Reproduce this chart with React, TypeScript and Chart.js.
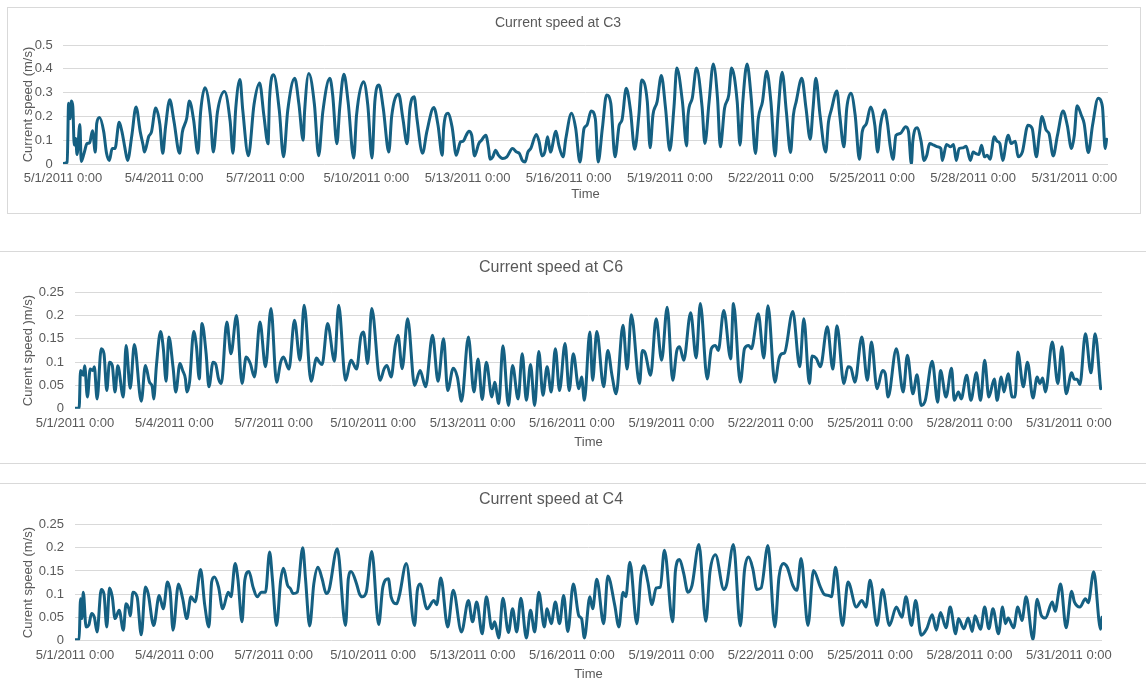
import React, { useEffect, useRef } from "react";
import { Chart, registerables } from "chart.js";

Chart.register(...registerables);

// ---------- data ----------
const xTickHours = [0, 72, 144, 216, 288, 360, 432, 504, 576, 648, 720];
const xTickLabels = [
  "5/1/2011 0:00", "5/4/2011 0:00", "5/7/2011 0:00", "5/10/2011 0:00", "5/13/2011 0:00",
  "5/16/2011 0:00", "5/19/2011 0:00", "5/22/2011 0:00", "5/25/2011 0:00", "5/28/2011 0:00",
  "5/31/2011 0:00",
];
const yTicksC3 = [0, 0.1, 0.2, 0.3, 0.4, 0.5];
const yTickLabelsC3 = ["0", "0.1", "0.2", "0.3", "0.4", "0.5"];
const yTicksSmall = [0, 0.05, 0.1, 0.15, 0.2, 0.25];
const yTickLabelsSmall = ["0", "0.05", "0.1", "0.15", "0.2", "0.25"];

// C3: hours since 5/1/2011 0:00 and current speed (m/s)
const c3Hours = [
  0, 3, 4, 5, 6, 7, 8, 9, 10, 12, 13, 15, 17, 19, 21, 23, 24, 26, 29, 31, 33, 35, 37, 40, 42, 44, 46, 49, 52, 55,
  57, 58, 61, 63, 66, 69, 71, 73, 76, 79, 83, 85, 88, 90, 93, 96, 98, 101, 105, 107, 110, 115, 119, 121, 123, 126,
  128, 132, 136, 140, 143, 146, 147, 150, 154, 157, 160, 165, 168, 171, 172, 175, 179, 182, 185, 190, 192, 195,
  197, 200, 203, 207, 209, 214, 217, 220, 222, 225, 228, 232, 234, 239, 242, 245, 247, 250, 252, 256, 259, 264,
  267, 270, 271, 274, 277, 280, 283, 285, 287, 289, 291, 293, 296, 298, 301, 303, 304, 306, 308, 310, 313, 316,
  320, 323, 325, 327, 329, 331, 333, 337, 339, 341, 343, 345, 347, 351, 353, 356, 358, 362, 365, 368, 371, 373,
  376, 379, 381, 384, 387, 390, 393, 396, 398, 401, 404, 407, 410, 412, 416, 418, 420, 423, 426, 429, 432, 435,
  437, 441, 444, 445, 448, 451, 455, 457, 460, 463, 466, 468, 471, 474, 476, 480, 482, 484, 487, 490, 493, 495,
  498, 501, 504, 507, 509, 512, 515, 518, 520, 522, 526, 529, 532, 534, 536, 539, 543, 545, 547, 551, 553, 556,
  558, 561, 564, 567, 569, 572, 575, 578, 580, 582, 585, 587, 589, 591, 593, 596, 600, 602, 604, 605, 608, 611,
  613, 615, 617, 620, 623, 625, 626, 629, 632, 634, 636, 638, 641, 643, 646, 648, 650, 652, 654, 656, 658, 660,
  663, 665, 667, 669, 672, 673, 675, 678, 680, 683, 687, 690, 693, 695, 697, 700, 702, 705, 708, 712, 715, 718,
  720, 722, 725, 727, 730, 733, 737, 740, 742, 743,
];
const c3Speed = [
  0.002, 0.008, 0.255, 0.19, 0.265, 0.24, 0.08, 0.107, 0.04, 0.166, 0.01, 0.045, 0.085, 0.09, 0.14, 0.05, 0.17,
  0.195, 0.135, 0.045, 0.015, 0.065, 0.065, 0.175, 0.135, 0.07, 0.015, 0.12, 0.24, 0.135, 0.08, 0.05, 0.115, 0.135,
  0.235, 0.165, 0.045, 0.155, 0.27, 0.18, 0.045, 0.135, 0.19, 0.265, 0.185, 0.045, 0.22, 0.32, 0.2, 0.05, 0.22,
  0.305, 0.18, 0.045, 0.235, 0.355, 0.225, 0.035, 0.25, 0.34, 0.205, 0.085, 0.27, 0.375, 0.225, 0.03, 0.225, 0.36,
  0.25, 0.1, 0.22, 0.38, 0.25, 0.035, 0.22, 0.36, 0.29, 0.085, 0.235, 0.377, 0.26, 0.025, 0.205, 0.346, 0.248,
  0.025, 0.26, 0.332, 0.234, 0.05, 0.2, 0.293, 0.19, 0.085, 0.234, 0.283, 0.19, 0.045, 0.135, 0.237, 0.163, 0.037,
  0.15, 0.213, 0.156, 0.037, 0.093, 0.096, 0.12, 0.138, 0.12, 0.034, 0.086, 0.1, 0.121, 0.065, 0.02, 0.03, 0.058,
  0.037, 0.023, 0.03, 0.065, 0.05, 0.044, 0.015, 0.008, 0.05, 0.065, 0.124, 0.093, 0.034, 0.05, 0.114, 0.05, 0.138,
  0.079, 0.03, 0.107, 0.213, 0.15, 0.008, 0.15, 0.163, 0.223, 0.19, 0.008, 0.15, 0.29, 0.255, 0.03, 0.163, 0.185,
  0.318, 0.227, 0.062, 0.205, 0.353, 0.262, 0.068, 0.205, 0.262, 0.372, 0.234, 0.058, 0.24, 0.403, 0.262, 0.076,
  0.205, 0.276, 0.403, 0.24, 0.086, 0.262, 0.42, 0.276, 0.072, 0.234, 0.29, 0.403, 0.262, 0.079, 0.262, 0.42,
  0.276, 0.044, 0.19, 0.262, 0.39, 0.262, 0.034, 0.205, 0.386, 0.22, 0.048, 0.205, 0.262, 0.36, 0.234, 0.104,
  0.234, 0.36, 0.205, 0.05, 0.177, 0.227, 0.307, 0.205, 0.072, 0.234, 0.297, 0.205, 0.02, 0.135, 0.17, 0.24, 0.163,
  0.05, 0.163, 0.227, 0.17, 0.072, 0.02, 0.12, 0.128, 0.156, 0.135, 0.0, 0.093, 0.152, 0.093, 0.015, 0.037, 0.086,
  0.079, 0.072, 0.065, 0.015, 0.082, 0.072, 0.082, 0.015, 0.065, 0.068, 0.075, 0.015, 0.05, 0.044, 0.04, 0.079,
  0.03, 0.037, 0.02, 0.114, 0.096, 0.086, 0.015, 0.107, 0.121, 0.086, 0.096, 0.03, 0.05, 0.163, 0.15, 0.03, 0.12,
  0.2, 0.142, 0.128, 0.034, 0.12, 0.223, 0.163, 0.065, 0.12, 0.245, 0.205, 0.17, 0.048, 0.163, 0.276, 0.242, 0.065,
  0.104,
];

// C6
const c6Hours = [
  0, 3, 4, 6, 7, 9, 11, 13, 14, 16, 19, 21, 23, 25, 27, 29, 31, 35, 37, 40, 43, 48, 51, 54, 56, 57, 59, 62, 64, 66,
  68, 71, 73, 76, 78, 80, 81, 83, 86, 88, 90, 92, 95, 97, 100, 102, 104, 106, 110, 113, 117, 121, 124, 127, 130,
  134, 138, 142, 146, 149, 151, 155, 159, 163, 166, 171, 175, 177, 179, 183, 188, 191, 196, 199, 200, 204, 207,
  209, 212, 215, 221, 224, 226, 229, 232, 234, 237, 241, 246, 250, 254, 259, 263, 267, 270, 274, 277, 280, 285,
  289, 292, 295, 298, 302, 304, 307, 310, 314, 317, 321, 324, 327, 330, 333, 336, 339, 342, 345, 348, 351, 355,
  358, 361, 365, 367, 369, 373, 375, 378, 383, 386, 389, 392, 397, 400, 403, 409, 411, 413, 417, 421, 425, 429,
  433, 436, 438, 441, 446, 450, 453, 458, 461, 464, 466, 470, 475, 477, 482, 485, 488, 490, 495, 499, 502, 507,
  510, 512, 514, 520, 525, 528, 532, 534, 537, 540, 545, 549, 552, 557, 560, 562, 565, 570, 574, 577, 581, 585,
  587, 589, 595, 600, 603, 607, 610, 613, 616, 621, 625, 627, 631, 635, 637, 640, 642, 646, 649, 653, 656, 659,
  662, 666, 668, 671, 673, 676, 679, 681, 683, 687, 690, 694, 697, 699, 701, 703, 708, 712, 715, 718, 722, 724,
  726, 728, 732, 736, 739, 743,
];
const c6Speed = [
  0.001, 0.001, 0.082, 0.072, 0.092, 0.025, 0.085, 0.082, 0.09, 0.021, 0.129, 0.118, 0.039, 0.1, 0.093, 0.036,
  0.092, 0.025, 0.136, 0.044, 0.138, 0.016, 0.093, 0.057, 0.047, 0.021, 0.093, 0.166, 0.129, 0.059, 0.154, 0.09,
  0.036, 0.097, 0.082, 0.064, 0.036, 0.057, 0.166, 0.133, 0.064, 0.183, 0.118, 0.047, 0.1, 0.095, 0.064, 0.054,
  0.186, 0.118, 0.2, 0.054, 0.111, 0.097, 0.068, 0.186, 0.09, 0.215, 0.057, 0.1, 0.111, 0.085, 0.19, 0.104, 0.222,
  0.059, 0.109, 0.1, 0.095, 0.183, 0.102, 0.222, 0.061, 0.097, 0.104, 0.085, 0.154, 0.165, 0.097, 0.215, 0.061,
  0.086, 0.093, 0.068, 0.136, 0.158, 0.086, 0.193, 0.05, 0.082, 0.047, 0.158, 0.059, 0.15, 0.039, 0.087, 0.068,
  0.016, 0.154, 0.036, 0.107, 0.02, 0.1, 0.025, 0.057, 0.011, 0.135, 0.007, 0.093, 0.021, 0.118, 0.018, 0.095,
  0.007, 0.123, 0.029, 0.09, 0.036, 0.129, 0.039, 0.14, 0.039, 0.118, 0.043, 0.068, 0.018, 0.165, 0.061, 0.166,
  0.047, 0.125, 0.072, 0.032, 0.179, 0.085, 0.202, 0.054, 0.125, 0.12, 0.072, 0.193, 0.104, 0.218, 0.061, 0.125,
  0.133, 0.104, 0.206, 0.109, 0.226, 0.064, 0.129, 0.136, 0.125, 0.211, 0.107, 0.226, 0.057, 0.129, 0.136, 0.129,
  0.204, 0.109, 0.221, 0.057, 0.107, 0.118, 0.12, 0.209, 0.09, 0.193, 0.054, 0.113, 0.108, 0.09, 0.176, 0.085,
  0.178, 0.054, 0.09, 0.088, 0.057, 0.154, 0.061, 0.143, 0.043, 0.082, 0.075, 0.025, 0.129, 0.036, 0.115, 0.032,
  0.073, 0.007, 0.018, 0.102, 0.014, 0.082, 0.025, 0.087, 0.018, 0.036, 0.021, 0.072, 0.018, 0.077, 0.018, 0.104,
  0.025, 0.064, 0.018, 0.068, 0.036, 0.075, 0.025, 0.025, 0.122, 0.047, 0.1, 0.023, 0.068, 0.054, 0.066, 0.036,
  0.143, 0.054, 0.133, 0.032, 0.077, 0.063, 0.063, 0.052, 0.161, 0.077, 0.161, 0.043,
];

// C4
const c4Hours = [
  0, 3, 4, 5, 6, 8, 10, 12, 14, 16, 19, 21, 23, 25, 27, 29, 32, 35, 37, 39, 40, 42, 45, 48, 51, 53, 57, 61, 64, 67,
  69, 71, 75, 78, 81, 84, 87, 91, 94, 97, 99, 101, 104, 107, 111, 113, 116, 118, 121, 123, 126, 129, 132, 135, 138,
  141, 143, 146, 149, 151, 154, 156, 158, 161, 165, 167, 170, 173, 176, 179, 182, 184, 190, 196, 198, 200, 204,
  206, 208, 211, 215, 220, 223, 227, 229, 233, 235, 240, 246, 248, 250, 255, 260, 262, 265, 270, 274, 280, 285,
  288, 291, 295, 298, 302, 304, 307, 310, 314, 317, 320, 323, 327, 330, 333, 336, 340, 342, 345, 348, 351, 354,
  357, 361, 365, 367, 369, 373, 375, 378, 383, 386, 391, 394, 397, 399, 402, 407, 410, 412, 415, 418, 421, 424,
  427, 433, 435, 438, 441, 444, 447, 452, 457, 460, 464, 470, 472, 477, 482, 485, 488, 491, 494, 497, 502, 507,
  510, 513, 516, 520, 523, 526, 531, 535, 540, 543, 546, 548, 551, 556, 560, 566, 570, 573, 576, 581, 585, 590,
  595, 599, 602, 606, 609, 613, 617, 621, 624, 627, 631, 634, 638, 640, 644, 647, 650, 652, 656, 659, 662, 665,
  669, 672, 674, 676, 680, 683, 686, 689, 694, 697, 700, 703, 708, 710, 714, 718, 722, 724, 728, 732, 734, 738,
  743, 744,
];
const c4Speed = [
  0.001, 0.002, 0.09, 0.047, 0.104, 0.029, 0.033, 0.058, 0.05, 0.018, 0.11, 0.1, 0.029, 0.113, 0.094, 0.047, 0.065,
  0.022, 0.079, 0.068, 0.053, 0.104, 0.094, 0.012, 0.115, 0.101, 0.032, 0.097, 0.068, 0.126, 0.104, 0.022, 0.122,
  0.09, 0.047, 0.094, 0.083, 0.153, 0.076, 0.029, 0.126, 0.137, 0.115, 0.068, 0.104, 0.094, 0.166, 0.133, 0.04,
  0.13, 0.149, 0.115, 0.094, 0.104, 0.104, 0.191, 0.133, 0.032, 0.13, 0.156, 0.119, 0.112, 0.101, 0.104, 0.2,
  0.133, 0.031, 0.122, 0.158, 0.133, 0.101, 0.108, 0.198, 0.032, 0.133, 0.149, 0.122, 0.101, 0.094, 0.104, 0.192,
  0.034, 0.115, 0.133, 0.094, 0.079, 0.097, 0.166, 0.032, 0.108, 0.122, 0.068, 0.086, 0.077, 0.135, 0.029, 0.108,
  0.018, 0.086, 0.04, 0.083, 0.014, 0.094, 0.025, 0.04, 0.005, 0.091, 0.017, 0.068, 0.018, 0.091, 0.005, 0.065,
  0.018, 0.104, 0.029, 0.068, 0.036, 0.083, 0.036, 0.097, 0.019, 0.122, 0.053, 0.047, 0.005, 0.094, 0.068, 0.132,
  0.036, 0.139, 0.076, 0.029, 0.104, 0.094, 0.169, 0.036, 0.14, 0.161, 0.126, 0.077, 0.113, 0.115, 0.195, 0.04,
  0.151, 0.175, 0.144, 0.104, 0.119, 0.207, 0.041, 0.148, 0.185, 0.11, 0.12, 0.207, 0.031, 0.151, 0.18, 0.155,
  0.11, 0.113, 0.205, 0.029, 0.137, 0.166, 0.158, 0.119, 0.108, 0.177, 0.032, 0.151, 0.115, 0.099, 0.097, 0.094,
  0.158, 0.032, 0.126, 0.072, 0.086, 0.072, 0.13, 0.032, 0.11, 0.032, 0.072, 0.05, 0.094, 0.032, 0.086, 0.011,
  0.025, 0.055, 0.022, 0.06, 0.027, 0.072, 0.014, 0.047, 0.025, 0.048, 0.019, 0.053, 0.024, 0.072, 0.025, 0.068,
  0.014, 0.072, 0.036, 0.048, 0.027, 0.072, 0.043, 0.094, 0.002, 0.089, 0.054, 0.048, 0.083, 0.063, 0.122, 0.027,
  0.106, 0.083, 0.072, 0.09, 0.081, 0.148, 0.024, 0.05,
];

// ---------- styling / layout ----------
const FONT = "'Liberation Sans', Arial, sans-serif";
const TEXT = "#595959";
const GRID = "#d9d9d9";
const LINE = "#156082";

type Panel = {
  title: string;
  yTitle: string;
  hours: number[];
  speed: number[];
  yTicks: number[];
  yLabels: string[];
  yMax: number;
  box: { left: number; top: number; width: number; height: number; border: string };
  canvasW: number;
  canvasH: number;
  yWidth: number;
  xHeight: number;
  rightPad: number;
  titleSize: number;
  titlePadTop: number;
  titlePadBottom: number;
  xTickPad: number;
  xTitlePadBottom: number;
  yTitlePadTop: number;
  yTickPad: number;
};

const panels: Panel[] = [
  {
    title: "Current speed at C3",
    yTitle: "Current speed (m/s)",
    hours: c3Hours,
    speed: c3Speed,
    yTicks: yTicksC3,
    yLabels: yTickLabelsC3,
    yMax: 0.5,
    box: { left: 7, top: 7, width: 1134, height: 207, border: "1px solid #d9d9d9" },
    canvasW: 1132,
    canvasH: 205,
    yWidth: 55,
    xHeight: 49,
    rightPad: 32,
    titleSize: 14,
    titlePadTop: 7.2,
    titlePadBottom: 13,
    xTickPad: 6.2,
    xTitlePadBottom: 10.8,
    yTitlePadTop: 12.2,
    yTickPad: 10.3,
  },
  {
    title: "Current speed at C6",
    yTitle: "Curent speed )m/s)",
    hours: c6Hours,
    speed: c6Speed,
    yTicks: yTicksSmall,
    yLabels: yTickLabelsSmall,
    yMax: 0.25,
    box: { left: -1, top: 251, width: 1148, height: 213, border: "1px solid #d9d9d9" },
    canvasW: 1146,
    canvasH: 211,
    yWidth: 75,
    xHeight: 54.3,
    rightPad: 44,
    titleSize: 16,
    titlePadTop: 6.4,
    titlePadBottom: 14.7,
    xTickPad: 6.5,
    xTitlePadBottom: 13.2,
    yTitlePadTop: 20.2,
    yTickPad: 11,
  },
  {
    title: "Current speed at C4",
    yTitle: "Curent speed (m/s)",
    hours: c4Hours,
    speed: c4Speed,
    yTicks: yTicksSmall,
    yLabels: yTickLabelsSmall,
    yMax: 0.25,
    box: { left: -1, top: 483, width: 1148, height: 212, border: "1px solid #d9d9d9" },
    canvasW: 1146,
    canvasH: 205,
    yWidth: 75,
    xHeight: 48.7,
    rightPad: 44,
    titleSize: 16,
    titlePadTop: 6.4,
    titlePadBottom: 15.1,
    xTickPad: 6.9,
    xTitlePadBottom: 7.2,
    yTitlePadTop: 20.2,
    yTickPad: 11,
  },
];

function PanelChart({ p }: { p: Panel }) {
  const ref = useRef<HTMLCanvasElement | null>(null);
  useEffect(() => {
    if (!ref.current) return;
    const points = p.hours.map((h, i) => ({ x: h, y: p.speed[i] }));
    const chart = new Chart(ref.current, {
      type: "line",
      data: {
        datasets: [
          {
            data: points,
            borderColor: LINE,
            backgroundColor: LINE,
            borderWidth: 3,
            pointRadius: 0,
            pointHoverRadius: 0,
            cubicInterpolationMode: "monotone",
            borderJoinStyle: "round",
            borderCapStyle: "round",
            fill: false,
          },
        ],
      },
      options: {
        animation: false,
        responsive: false,
        maintainAspectRatio: false,
        events: [],
        layout: { padding: { left: 0, right: p.rightPad, top: 0, bottom: 0 } },
        plugins: {
          legend: { display: false },
          tooltip: { enabled: false },
          title: {
            display: true,
            text: p.title,
            color: TEXT,
            font: { family: FONT, size: p.titleSize, weight: "normal" },
            padding: { top: p.titlePadTop, bottom: p.titlePadBottom },
          },
        },
        scales: {
          x: {
            type: "linear",
            min: 0,
            max: 744,
            grid: { display: false, drawTicks: false },
            border: { display: false },
            afterBuildTicks: (s: any) => {
              s.ticks = xTickHours.map((v) => ({ value: v }));
            },
            afterFit: (s: any) => {
              s.height = p.xHeight;
            },
            ticks: {
              autoSkip: false,
              maxRotation: 0,
              minRotation: 0,
              padding: p.xTickPad,
              color: TEXT,
              font: { family: FONT, size: 13 },
              callback: (_v: any, i: number) => xTickLabels[i],
            },
            title: {
              display: true,
              text: "Time",
              color: TEXT,
              font: { family: FONT, size: 13 },
              padding: { top: 0, bottom: p.xTitlePadBottom },
            },
          },
          y: {
            type: "linear",
            min: 0,
            max: p.yMax,
            grid: { color: GRID, lineWidth: 1, drawTicks: false },
            border: { display: false },
            afterBuildTicks: (s: any) => {
              s.ticks = p.yTicks.map((v) => ({ value: v }));
            },
            afterFit: (s: any) => {
              s.width = p.yWidth;
            },
            ticks: {
              padding: p.yTickPad,
              color: TEXT,
              font: { family: FONT, size: 13 },
              callback: (_v: any, i: number) => p.yLabels[i],
            },
            title: {
              display: true,
              text: p.yTitle,
              color: TEXT,
              font: { family: FONT, size: 13 },
              padding: { top: p.yTitlePadTop, bottom: 0 },
            },
          },
        },
      } as any,
    });
    return () => chart.destroy();
  }, [p]);

  return (
    <div
      style={{
        position: "absolute",
        left: p.box.left,
        top: p.box.top,
        width: p.box.width,
        height: p.box.height,
        border: p.box.border,
        boxSizing: "border-box",
        background: "#fff",
      }}
    >
      <canvas
        ref={ref}
        width={p.canvasW}
        height={p.canvasH}
        style={{ position: "absolute", left: 0, top: 0, width: p.canvasW, height: p.canvasH, display: "block" }}
      />
    </div>
  );
}

export default function App() {
  return (
    <div
      style={{
        position: "fixed",
        left: 0,
        top: 0,
        width: 1146,
        height: 689,
        overflow: "hidden",
        background: "#fff",
      }}
    >
      {panels.map((p, i) => (
        <PanelChart key={i} p={p} />
      ))}
    </div>
  );
}
